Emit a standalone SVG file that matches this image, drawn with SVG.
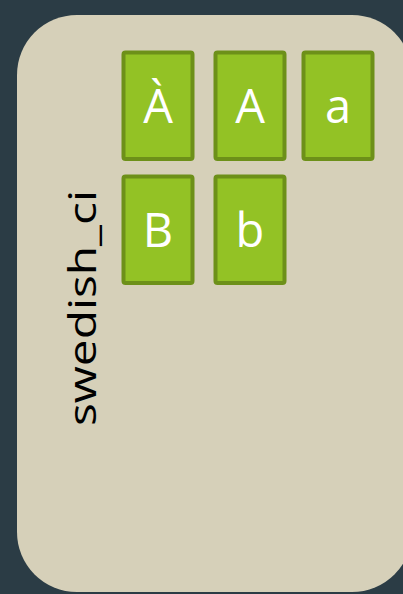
<svg xmlns="http://www.w3.org/2000/svg" width="403" height="594" viewBox="0 0 403 594">
<style>
.panel{fill:#d6d0b9}
.box rect{fill:#93c225;stroke:#6d9019;stroke-width:4}
.box text{fill:#ffffff;font-family:"Open Sans","Liberation Sans",sans-serif;font-size:47px;text-anchor:middle}
.label{fill:#000000;font-family:"Open Sans","Liberation Sans",sans-serif;font-size:38px;text-anchor:middle}
</style>
<rect width="403" height="594" fill="#2b3c45"/>
<rect class="panel" x="17" y="15" width="395" height="577" rx="60" ry="60"/>
<text class="label" transform="translate(96,308) rotate(-90)" textLength="236" lengthAdjust="spacingAndGlyphs">swedish_ci</text>
<g id="node-A-grave" class="box"><rect x="123.5" y="52.5" width="69" height="106.5" rx="2"/><text x="158" y="123">À</text></g>
<g id="node-A" class="box"><rect x="215.5" y="52.5" width="69" height="106.5" rx="2"/><text x="250" y="123">A</text></g>
<g id="node-a" class="box"><rect x="303.5" y="52.5" width="69" height="106.5" rx="2"/><text x="338" y="123">a</text></g>
<g id="node-B" class="box"><rect x="123.5" y="176.5" width="69" height="106.5" rx="2"/><text x="158" y="247">B</text></g>
<g id="node-b" class="box"><rect x="215.5" y="176.5" width="69" height="106.5" rx="2"/><text x="250" y="247">b</text></g>
<g id="connectors"/>
</svg>
